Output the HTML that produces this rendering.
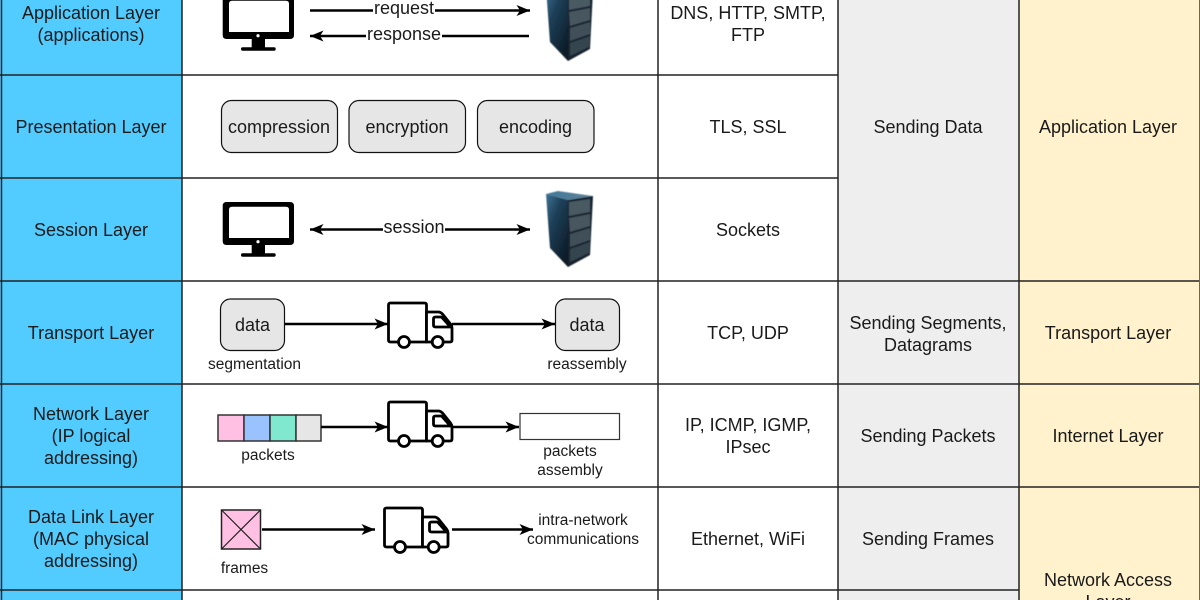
<!DOCTYPE html>
<html>
<head>
<meta charset="utf-8">
<style>
html,body{margin:0;padding:0;background:#fff;width:1200px;height:600px;overflow:hidden}
svg{display:block}
text{font-family:"Liberation Sans",sans-serif;font-size:18px;fill:#1a1a1a;text-anchor:middle}
.s{font-size:15.500px}
.l{stroke:#222;stroke-width:1.500;fill:none}
.a{stroke:#000;stroke-width:2.500;fill:none}
</style>
</head>
<body>
<svg width="1200" height="600" viewBox="0 0 1200 600" xmlns="http://www.w3.org/2000/svg">
<defs>
<marker id="e" markerUnits="userSpaceOnUse" markerWidth="14" markerHeight="12" refX="13.500" refY="6" orient="auto">
<path d="M0 0.500L13.500 6L0 11.500L3.500 6Z" fill="#000"/>
</marker>
<marker id="st" markerUnits="userSpaceOnUse" markerWidth="14" markerHeight="12" refX="0" refY="6" orient="auto">
<path d="M13.500 0.500L0 6L13.500 11.500L10 6Z" fill="#000"/>
</marker>
<linearGradient id="side" x1="0" y1="0" x2="0.7" y2="1">
<stop offset="0" stop-color="#3f7296"/><stop offset=".4" stop-color="#1d3f57"/><stop offset="1" stop-color="#0c1c28"/>
</linearGradient>
<linearGradient id="top" x1="0" y1="0" x2="1" y2="0">
<stop offset="0" stop-color="#3f7898"/><stop offset="1" stop-color="#5f8398"/>
</linearGradient>
<filter id="soft" x="-10%" y="-10%" width="120%" height="120%"><feGaussianBlur stdDeviation="0.500"/></filter>
<g id="mon">
<path fill-rule="evenodd" fill="#000" d="M226.500 -4H290Q294 -4 294 0V35Q294 39 290 39H226.500Q222.700 39 222.700 35V0Q222.700 -4 226.500 -4ZM232 0.700Q229 0.700 229 3.700V32H289V3.700Q289 0.700 286 0.700Z"/>
<circle cx="258" cy="35.700" r="1.600" fill="#fff"/>
<rect x="251.700" y="39" width="13.300" height="9" fill="#000"/>
<rect x="241" y="47.300" width="34.700" height="3.400" rx="1.700" fill="#000"/>
</g>
<g id="srv" filter="url(#soft)">
<path d="M546 194L558 191L593 196L568 200Z" fill="url(#top)"/>
<path d="M546 194L568 200L568 267L550 248Z" fill="url(#side)"/>
<path d="M568 200L593 196L590 255L568 267Z" fill="#16242e"/>
<path d="M569 202L590 199L590 212L569 216Z" fill="#4a5a63"/>
<path d="M569 218L590 214L590 226L570 232Z" fill="#46565f"/>
<path d="M570 234L590 228L590 240L570 247Z" fill="#3f4f58"/>
<path d="M570 249L590 242L589 253L570 262Z" fill="#35444d"/>
</g>
<g id="trk" fill="#fff" stroke="#000" stroke-width="2.800" stroke-linejoin="round">
<path d="M38 39H2Q0 39 0 37V2Q0 0 2 0H36Q38 0 38 2Z"/>
<path d="M38 9H50Q52 9 54 11L62 21Q63.500 23 63.500 25V37Q63.500 39 61.500 39H38Z"/>
<path d="M62 24H47Q45 24 45 22V16Q45 14 47 14H53L61 23Z"/>
<circle cx="15.500" cy="39" r="5.500"/>
<circle cx="49.200" cy="39" r="5.500"/>
</g>
</defs>

<!-- column fills -->
<rect x="0" y="0" width="182" height="600" fill="#52ccff"/>
<rect x="838" y="0" width="181" height="600" fill="#eeeeee"/>
<rect x="1019" y="0" width="181" height="600" fill="#fff2cc"/>

<!-- grid -->
<path class="l" d="M1.500 0V600M182 0V600M658 0V600M838 0V600M1019 0V600"/>
<path d="M1199.500 0V600" stroke="#666" stroke-width="1" fill="none"/>
<path class="l" d="M0 75H838M0 178H838M0 281H1199M0 384H1199M0 487H1199M0 590H1019"/>

<!-- left column -->
<text x="91" y="19">Application Layer</text>
<text x="91" y="41">(applications)</text>
<text x="91" y="133">Presentation Layer</text>
<text x="91" y="236">Session Layer</text>
<text x="91" y="339">Transport Layer</text>
<text x="91" y="420">Network Layer</text>
<text x="91" y="442">(IP logical</text>
<text x="91" y="464">addressing)</text>
<text x="91" y="523">Data Link Layer</text>
<text x="91" y="545">(MAC physical</text>
<text x="91" y="567">addressing)</text>

<!-- protocol column -->
<text x="748" y="19">DNS, HTTP, SMTP,</text>
<text x="748" y="41">FTP</text>
<text x="748" y="133">TLS, SSL</text>
<text x="748" y="236">Sockets</text>
<text x="748" y="339">TCP, UDP</text>
<text x="748" y="431">IP, ICMP, IGMP,</text>
<text x="748" y="453">IPsec</text>
<text x="748" y="545">Ethernet, WiFi</text>

<!-- gray column -->
<text x="928" y="133">Sending Data</text>
<text x="928" y="329">Sending Segments,</text>
<text x="928" y="351">Datagrams</text>
<text x="928" y="442">Sending Packets</text>
<text x="928" y="545">Sending Frames</text>

<!-- yellow column -->
<text x="1108" y="133">Application Layer</text>
<text x="1108" y="339">Transport Layer</text>
<text x="1108" y="442">Internet Layer</text>
<text x="1108" y="586">Network Access</text>
<text x="1108" y="608">Layer</text>

<!-- application row -->
<use href="#mon" x="0" y="0"/>
<use href="#srv" x="0" y="-206"/>
<line class="a" x1="310" y1="10.500" x2="530" y2="10.500" marker-end="url(#e)"/>
<rect x="373" y="0" width="62" height="20" fill="#fff"/>
<text x="404" y="14">request</text>
<line class="a" x1="529" y1="36" x2="310" y2="36" marker-end="url(#e)"/>
<rect x="366" y="25" width="76" height="20" fill="#fff"/>
<text x="404" y="40">response</text>

<!-- presentation row -->
<g fill="#e6e6e6" stroke="#111" stroke-width="1.200">
<rect x="221.500" y="100.500" width="116" height="52" rx="10"/>
<rect x="349" y="100.500" width="116.500" height="52" rx="10"/>
<rect x="477.500" y="100.500" width="116.500" height="52" rx="10"/>
</g>
<text x="279" y="133">compression</text>
<text x="407" y="133">encryption</text>
<text x="535.500" y="133">encoding</text>

<!-- session row -->
<use href="#mon" x="0" y="206"/>
<use href="#srv" x="0" y="0"/>
<line class="a" x1="310" y1="229.500" x2="530" y2="229.500" marker-start="url(#st)" marker-end="url(#e)"/>
<rect x="383" y="217" width="62" height="22" fill="#fff"/>
<text x="414" y="233">session</text>

<!-- transport row -->
<rect x="220.500" y="299" width="64" height="51.500" rx="10" fill="#e6e6e6" stroke="#111" stroke-width="1.200"/>
<rect x="555.500" y="299" width="64" height="51.500" rx="10" fill="#e6e6e6" stroke="#111" stroke-width="1.200"/>
<text x="252.500" y="331">data</text>
<text x="587" y="331">data</text>
<line class="a" x1="285" y1="324" x2="388" y2="324" marker-end="url(#e)"/>
<line class="a" x1="452" y1="324" x2="555" y2="324" marker-end="url(#e)"/>
<use href="#trk" x="388.500" y="303"/>
<text class="s" x="254.500" y="369">segmentation</text>
<text class="s" x="587" y="369">reassembly</text>

<!-- network row -->
<g stroke="#333" stroke-width="1.500">
<rect x="218" y="415" width="26" height="26" fill="#ffc0e3"/>
<rect x="244" y="415" width="26" height="26" fill="#99c2ff"/>
<rect x="270" y="415" width="26" height="26" fill="#7fe8cf"/>
<rect x="296" y="415" width="25" height="26" fill="#e6e6e6"/>
</g>
<line class="a" x1="321" y1="427" x2="388" y2="427" marker-end="url(#e)"/>
<line class="a" x1="452" y1="427" x2="519" y2="427" marker-end="url(#e)"/>
<use href="#trk" x="388.500" y="402"/>
<rect x="520" y="413.500" width="99.500" height="26" fill="#fff" stroke="#333" stroke-width="1.200"/>
<text class="s" x="268" y="460">packets</text>
<text class="s" x="570" y="456">packets</text>
<text class="s" x="570" y="475">assembly</text>

<!-- data link row -->
<rect x="221.500" y="510" width="39" height="39" fill="#ffc0e3" stroke="#222" stroke-width="1.500"/>
<path d="M221.500 510L260.500 549M260.500 510L221.500 549" stroke="#222" stroke-width="1.200" fill="none"/>
<line class="a" x1="262" y1="529.500" x2="375" y2="529.500" marker-end="url(#e)"/>
<line class="a" x1="452" y1="529.500" x2="533" y2="529.500" marker-end="url(#e)"/>
<use href="#trk" x="384.500" y="508"/>
<text class="s" x="244.500" y="573">frames</text>
<text class="s" x="583" y="525">intra-network</text>
<text class="s" x="583" y="544">communications</text>
</svg>
</body>
</html>
